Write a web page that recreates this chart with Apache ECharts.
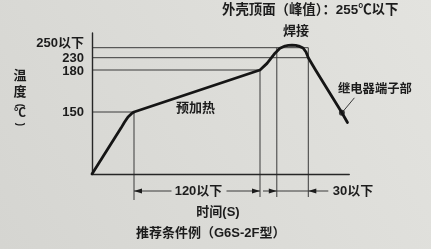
<!DOCTYPE html>
<html>
<head>
<meta charset="utf-8">
<script src="https://cdn.jsdelivr.net/npm/echarts@6/dist/echarts.min.js"></script>
<style>
  html, body { margin: 0; padding: 0; }
  #chart { width: 431px; height: 249px; }
</style>
</head>
<body>
<div id="chart"></div>
<script>
// Recommended reflow soldering profile, G6S-2F relay.

// Marked temperature levels (°C) and their axis labels
const levelTemps = [150, 180, 230, 250];
const levelLabels = ['150', '180', '230', '250以下'];

// Relay terminal temperature curve: time (s) and temperature (°C)
const profileTime = [0, 27.6, 30.9, 34.3, 37.6, 40, 160, 166.7, 174.3, 179, 183.8, 187, 190.5, 194, 197, 201, 203.8, 206, 212.9, 237.6, 243.3];
const profileTemp = [0, 111, 125, 138, 146, 150, 180, 207, 239, 249, 253.4, 254.7, 255, 254.6, 253.2, 249.4, 241.4, 230, 180, 150, 124.6];

// Time windows (s) and their dimension labels
const preheatWindow = [40, 160];
const solderWindow = [176, 206];
const windowLabels = ['120以下', '30以下'];

// Case top peak temperature (°C) and the measured terminal point
const peakTemp = 255;
const terminalPoint = [238, 148];

// Texts
const titleText = '外壳顶面（峰值）：' + peakTemp + '℃以下';
const captionText = '推荐条件例（G6S-2F型）';
const preheatText = '预加热';
const solderText = '焊接';
const terminalText = '继电器端子部';
const timeAxisName = '时间(S)';
const tempAxisName = ['温', '度', '(', '℃', ')'];

// ---- drawing ----
const FONT = "'Liberation Sans', 'Noto Sans CJK SC', sans-serif";
const INK = '#1c1c1c';
const GUIDE = '#3a3a3a';

// The temperature axis is not to scale: each band between marked levels
// gets its own drawn height (in axis units).
const bandTemps = [0].concat(levelTemps);
const bandHeights = [62, 42, 12.3, 10];
function toH(temp) {
  let h = 0;
  for (let i = 0; i < bandHeights.length; i++) {
    const lo = bandTemps[i], hi = bandTemps[i + 1];
    if (temp <= hi) return h + (temp - lo) / (hi - lo) * bandHeights[i];
    h += bandHeights[i];
  }
  const n = bandHeights.length;
  return h + (temp - bandTemps[n]) / (bandTemps[n] - bandTemps[n - 1]) * bandHeights[n - 1];
}

const chart = echarts.init(document.getElementById('chart'), null, { renderer: 'canvas' });

const option = {
  animation: false,
  backgroundColor: {
    type: 'linear', x: 1, y: 0, x2: 0, y2: 1,
    colorStops: [{ offset: 0, color: '#e3e3df' }, { offset: 1, color: '#d5d5d1' }]
  },
  grid: { left: 92, top: 33, right: 81.75, bottom: 75 },
  xAxis: {
    type: 'value', min: 0, max: 245,
    axisLine: { show: true, lineStyle: { color: '#262626', width: 1.4 } },
    axisTick: { show: false }, axisLabel: { show: false }, splitLine: { show: false }
  },
  yAxis: {
    type: 'value', min: 0, max: 141,
    axisLine: { show: true, lineStyle: { color: '#262626', width: 1.4 } },
    axisTick: { show: false }, axisLabel: { show: false }, splitLine: { show: false }
  },
  series: [
    {
      type: 'line',
      data: profileTime.map(function (t, i) { return [t, toH(profileTemp[i])]; }),
      symbol: 'none',
      lineStyle: { color: '#151515', width: 2.8, join: 'round', cap: 'round' },
      silent: true
    },
    {
      type: 'scatter',
      data: [[terminalPoint[0], toH(terminalPoint[1])]],
      symbolSize: 6,
      itemStyle: { color: '#151515' },
      silent: true
    }
  ]
};
chart.setOption(option);

// Annotations placed through the grid's own scales
function px(t, temp) { return chart.convertToPixel({ gridIndex: 0 }, [t, toH(temp)]); }
const base = px(0, 0);
const baseY = base[1];
const dimY = baseY + 17;

const g = [];
function seg(x1, y1, x2, y2) {
  g.push({ type: 'line', shape: { x1: x1, y1: y1, x2: x2, y2: y2 }, style: { stroke: GUIDE, lineWidth: 1 }, silent: true });
}
function head(x, y, dir) {
  g.push({ type: 'polygon', shape: { points: [[x, y], [x - dir * 8, y - 2.6], [x - dir * 8, y + 2.6]] }, style: { fill: INK }, silent: true });
}
function text(str, x, y, align, size, rotation) {
  g.push({ type: 'text', x: x, y: y, rotation: rotation || 0, style: { text: str, fill: INK, font: 'bold ' + (size || 13) + 'px ' + FONT, align: align || 'left', verticalAlign: 'middle' }, silent: true });
}

// Temperature level labels (the top one sits a little higher to clear 230)
const labelShift = [0.5, 1, 1, -3.8];
levelTemps.forEach(function (t, i) {
  text(levelLabels[i], base[0] - 8, px(0, t)[1] + labelShift[i], 'right');
});

// Level lines
const p250 = px(solderWindow[1], levelTemps[3]);
const p230 = px(solderWindow[1], levelTemps[2]);
const p180 = px(preheatWindow[1], levelTemps[1]);
const p150 = px(preheatWindow[0], levelTemps[0]);
seg(base[0], p250[1], p250[0], p250[1]);
seg(base[0], p230[1], p230[0], p230[1]);
seg(base[0], p180[1], p180[0], p180[1]);
seg(base[0], p150[1], p150[0], p150[1]);

// Window boundaries
const xs0 = px(solderWindow[0], levelTemps[3]);
seg(p150[0], p150[1], p150[0], baseY + 26);
seg(p180[0], p180[1], p180[0], baseY + 23);
seg(xs0[0], xs0[1], xs0[0], baseY + 23);
seg(p250[0], p250[1], p250[0], baseY + 23);

// Preheat dimension
const midPre = (p150[0] + p180[0]) / 2 + 1.5;
seg(p150[0], dimY, midPre - 27, dimY); head(p150[0], dimY, -1);
seg(midPre + 28, dimY, p180[0], dimY); head(p180[0], dimY, 1);
text(windowLabels[0], midPre, dimY, 'center');

// Soldering dimension (arrows outside)
seg(p180[0] + 3, dimY, p250[0] + 20, dimY);
head(xs0[0], dimY, 1);
head(p250[0], dimY, -1);
text(windowLabels[1], p250[0] + 24.5, dimY, 'left');

// Time axis name
text(timeAxisName, px(120, 0)[0], baseY + 38, 'center');

// Preheat and soldering labels
text(preheatText, midPre - 3, (p150[1] + p180[1]) / 2 + 17, 'center');
const peak = px(190.5, peakTemp);
text(solderText, peak[0] + 4, peak[1] - 14, 'center');

// Relay terminal label with leader
const term = px(terminalPoint[0], terminalPoint[1]);
seg(term[0], term[1], term[0] + 12.5, term[1] - 15);
text(terminalText, term[0] + 33, term[1] - 23.5, 'center', 12.3);

// Titles
text(titleText, 222, 10, 'left', 13.4);
text(captionText, 136, 233, 'left');

// Vertical temperature axis name, brackets turned to run down the column
text(tempAxisName[0], 20, 76, 'center');
text(tempAxisName[1], 20, 92, 'center');
text(tempAxisName[2], 20, 105.5, 'center', 10, -Math.PI / 2);
text(tempAxisName[3], 20, 113.5, 'center', 12);
text(tempAxisName[4], 20, 124.5, 'center', 10, -Math.PI / 2);

chart.setOption({ graphic: g });
</script>
</body>
</html>
